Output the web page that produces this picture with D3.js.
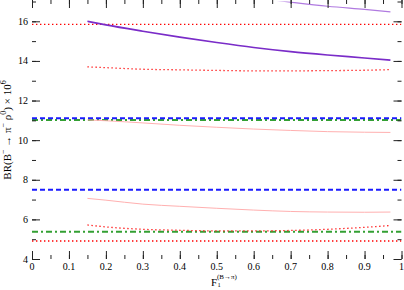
<!DOCTYPE html>
<html>
<head>
<meta charset="utf-8">
<script src="https://cdn.jsdelivr.net/npm/d3@7"></script>
<style>
  body { margin: 0; background: #fff; }
</style>
</head>
<body>
<svg id="canvas" width="404" height="290" font-family="'Liberation Serif', 'Times New Roman', 'DejaVu Serif', serif"></svg>
<script>
var W = 404, H = 290;
var margin = {left: 32, right: 2.5, top: 1.5, bottom: 31};

// x grid of the curves
var fx = [0.15, 0.2, 0.3, 0.4, 0.5, 0.6, 0.7, 0.8, 0.9, 0.97];

// curves over F1
var purpleThick = [16.0, 15.82, 15.5, 15.2, 14.93, 14.68, 14.47, 14.3, 14.15, 14.04];
var purpleThin  = [18.6, 18.4, 18.0, 17.65, 17.45, 17.2, 16.97, 16.76, 16.6, 16.48];
var redUpper    = [13.7, 13.66, 13.58, 13.55, 13.52, 13.5, 13.5, 13.51, 13.53, 13.56];
var pinkUpper   = [11.02, 10.98, 10.87, 10.75, 10.65, 10.56, 10.49, 10.43, 10.4, 10.39];
var pinkLower   = [7.06, 6.97, 6.77, 6.66, 6.56, 6.47, 6.4, 6.37, 6.36, 6.37];
var redLower    = [5.72, 5.62, 5.5, 5.45, 5.42, 5.42, 5.44, 5.5, 5.6, 5.69];

// constant levels
var redDotTop   = 15.85;
var blueTop     = 11.1;
var greenTop    = 11.02;
var blueLow     = 7.5;
var greenLow    = 5.38;
var redDotLow   = 4.91;

var xTicks = [0, 0.1, 0.2, 0.3, 0.4, 0.5, 0.6, 0.7, 0.8, 0.9, 1];
var yTicks = [4, 6, 8, 10, 12, 14, 16];

var x = d3.scaleLinear().domain([0, 1]).range([margin.left, W - margin.right]);
var y = d3.scaleLinear().domain([4, 17]).range([H - margin.bottom, margin.top]);

var svg = d3.select("#canvas");

svg.append("clipPath").attr("id", "clip")
  .append("rect")
  .attr("x", x(0)).attr("y", y(17))
  .attr("width", x(1) - x(0)).attr("height", y(4) - y(17));

var plot = svg.append("g").attr("clip-path", "url(#clip)");

var line = d3.line()
  .x(d => x(d[0]))
  .y(d => y(d[1]))
  .curve(d3.curveMonotoneX);

function curve(vals, stroke, width, dash) {
  plot.append("path")
    .datum(fx.map((f, i) => [f, vals[i]]))
    .attr("d", line)
    .attr("fill", "none")
    .attr("stroke", stroke)
    .attr("stroke-width", width)
    .attr("stroke-dasharray", dash || null);
}

function level(v, stroke, width, dash) {
  plot.append("path")
    .datum([[0, v], [1, v]])
    .attr("d", line)
    .attr("fill", "none")
    .attr("stroke", stroke)
    .attr("stroke-width", width)
    .attr("stroke-dasharray", dash || null);
}

level(redDotTop, "#ff0000", 1.3, "1.4,2.6");
level(redDotLow, "#ff0000", 1.3, "1.4,2.6");
level(greenTop, "#33a033", 2, "6,3,2,3");
level(greenLow, "#33a033", 2, "6,3,2,3");
level(blueTop, "#1a1aff", 2, "5,3");
level(blueLow, "#1a1aff", 2, "5,3");

curve(pinkUpper, "#ffb0b0", 1);
curve(pinkLower, "#ffb0b0", 1);
curve(redUpper, "#ff2020", 1.3, "1.4,2.6");
curve(redLower, "#ff2020", 1.3, "1.4,2.6");
curve(purpleThin, "#b07ae0", 1.2);
curve(purpleThick, "#7a2cc8", 1.6);

// axes with inward ticks
var xMinor = d3.range(0, 1.0001, 0.05);
var yMinor = d3.range(4, 17.001, 1);

function tickSet(axisFn, scale, values, size, tf) {
  svg.append("g")
    .attr("transform", tf)
    .call(axisFn(scale).tickValues(values).tickSize(size).tickFormat(""))
    .call(g => g.select(".domain").remove())
    .call(g => g.selectAll("line").attr("stroke", "#222").attr("stroke-width", 1));
}

var bot = y(4), top = y(17), lft = x(0), rgt = x(1);
tickSet(d3.axisTop, x, xMinor, 4, "translate(0," + bot + ")");
tickSet(d3.axisTop, x, xTicks, 8, "translate(0," + bot + ")");
tickSet(d3.axisBottom, x, xMinor, 4, "translate(0," + top + ")");
tickSet(d3.axisBottom, x, xTicks, 8, "translate(0," + top + ")");
tickSet(d3.axisRight, y, yMinor, 4, "translate(" + lft + ",0)");
tickSet(d3.axisRight, y, yTicks, 8, "translate(" + lft + ",0)");
tickSet(d3.axisLeft, y, yMinor, 4, "translate(" + rgt + ",0)");
tickSet(d3.axisLeft, y, yTicks, 8, "translate(" + rgt + ",0)");

svg.append("rect")
  .attr("x", lft).attr("y", top)
  .attr("width", rgt - lft).attr("height", bot - top)
  .attr("fill", "none").attr("stroke", "#222").attr("stroke-width", 1.6);

// tick labels
svg.append("g").selectAll("text").data(xTicks).join("text")
  .attr("x", d => x(d)).attr("y", bot + 11)
  .attr("text-anchor", "middle").attr("font-size", 10)
  .text(d => d3.format("")(d));

svg.append("g").selectAll("text").data(yTicks).join("text")
  .attr("x", lft - 4).attr("y", d => y(d) + 3.5)
  .attr("text-anchor", "end").attr("font-size", 10)
  .text(d => d);

// x label
svg.append("text").attr("x", 211).attr("y", 285.5).attr("font-size", 11).text("F");
svg.append("text").attr("x", 217.5).attr("y", 287).attr("font-size", 6.5).text("1");
svg.append("text").attr("x", 217).attr("y", 278.5).attr("font-size", 7).text("(B\u2192\u03c0)");

// y label
var yl = svg.append("text")
  .attr("transform", "translate(11,130) rotate(-90)")
  .attr("text-anchor", "middle").attr("font-size", 11);
yl.append("tspan").text("BR(B");
yl.append("tspan").attr("font-size", 8).attr("dy", -5).text("\u2212");
yl.append("tspan").attr("dy", 5).text(" \u2192 \u03c0");
yl.append("tspan").attr("font-size", 8).attr("dy", -5).text("\u2212");
yl.append("tspan").attr("dy", 5).text(" \u03c1");
yl.append("tspan").attr("font-size", 8).attr("dy", -5).text("0");
yl.append("tspan").attr("dy", 5).text(") \u00d7 10");
yl.append("tspan").attr("font-size", 8).attr("dy", -5).text("6");
</script>
</body>
</html>
